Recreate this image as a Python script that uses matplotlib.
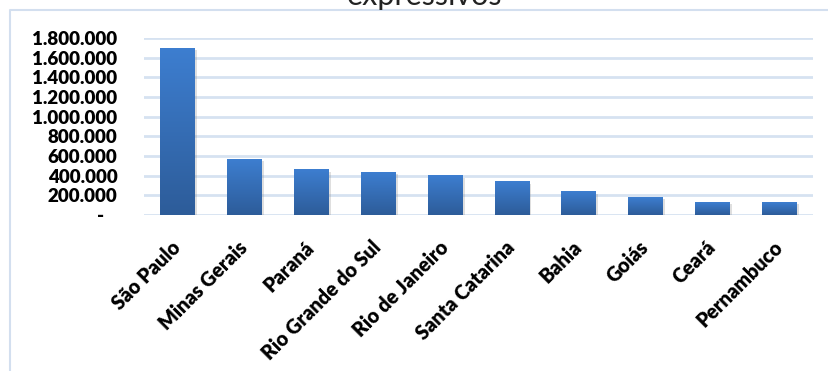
import numpy as np
import matplotlib
matplotlib.use("Agg")
import matplotlib.pyplot as plt
import matplotlib.patheffects as pe
from matplotlib.colors import LinearSegmentedColormap
from matplotlib.lines import Line2D
from matplotlib.ticker import FuncFormatter

estados = ["São Paulo", "Minas Gerais", "Paraná", "Rio Grande do Sul", "Rio de Janeiro",
           "Santa Catarina", "Bahia", "Goiás", "Ceará", "Pernambuco"]
valores = [1695000, 569000, 458000, 437000, 397000, 336000, 234000, 183000, 132000, 132000]
yticks = [0, 200000, 400000, 600000, 800000, 1000000, 1200000, 1400000, 1600000, 1800000]
titulo = "expressivos"

plt.rc("font", family=["Lato", "DejaVu Sans"])

W, H = 829, 371
fig = plt.figure(figsize=(W / 100, H / 100), dpi=100)
ax = fig.add_axes([144 / W, 1 - 215 / H, (813 - 144) / W, (215 - 38) / H])

x = np.arange(len(estados))
bars = ax.bar(x, valores, width=0.52, color="#2E5E9E", zorder=3,
              path_effects=[pe.SimplePatchShadow(offset=(1.5, -1.5), shadow_rgbFace="0.5", alpha=0.25),
                            pe.Normal()])

# vertical gradient, darker at the bottom
cmap = LinearSegmentedColormap.from_list("grad", ["#2D5C99", "#3D7ED0"])
grad = np.linspace(0, 1, 256).reshape(-1, 1)
for b in bars:
    ax.imshow(grad, cmap=cmap, origin="lower", aspect="auto", zorder=4,
              extent=[b.get_x(), b.get_x() + b.get_width(), 0, b.get_height()])

ax.set_xlim(-0.5, len(estados) - 0.5)
ax.set_ylim(0, 1800000)
ax.set_yticks(yticks)
ax.yaxis.set_major_formatter(FuncFormatter(lambda v, p: "-   " if v == 0 else f"{v:,.0f}".replace(",", ".")))
ax.grid(axis="y", color="#D6E2F1", lw=2, zorder=0)
ax.set_axisbelow(True)
for s in ax.spines.values():
    s.set_visible(False)

ax.set_xticks(x)
ax.set_xticklabels(estados, rotation=45, ha="right", va="center", rotation_mode="anchor",
                   fontweight="heavy", fontsize=14.2)
ax.tick_params(axis="x", length=0, pad=21)
ax.tick_params(axis="y", length=0, pad=19, labelsize=13.5)
for t in ax.get_yticklabels():
    t.set_fontweight("heavy")

# chart area border (partly cropped)
fig.add_artist(Line2D([10 / W, 10 / W, 1], [0, 1 - 10 / H, 1 - 10 / H],
                      transform=fig.transFigure, color="#D3DFEF", lw=1.5))
fig.text(425 / W, 1 - 5 / H, titulo, ha="center", va="baseline", fontsize=22, color="#222222")

fig.savefig("out.png", dpi=100, facecolor="white")
